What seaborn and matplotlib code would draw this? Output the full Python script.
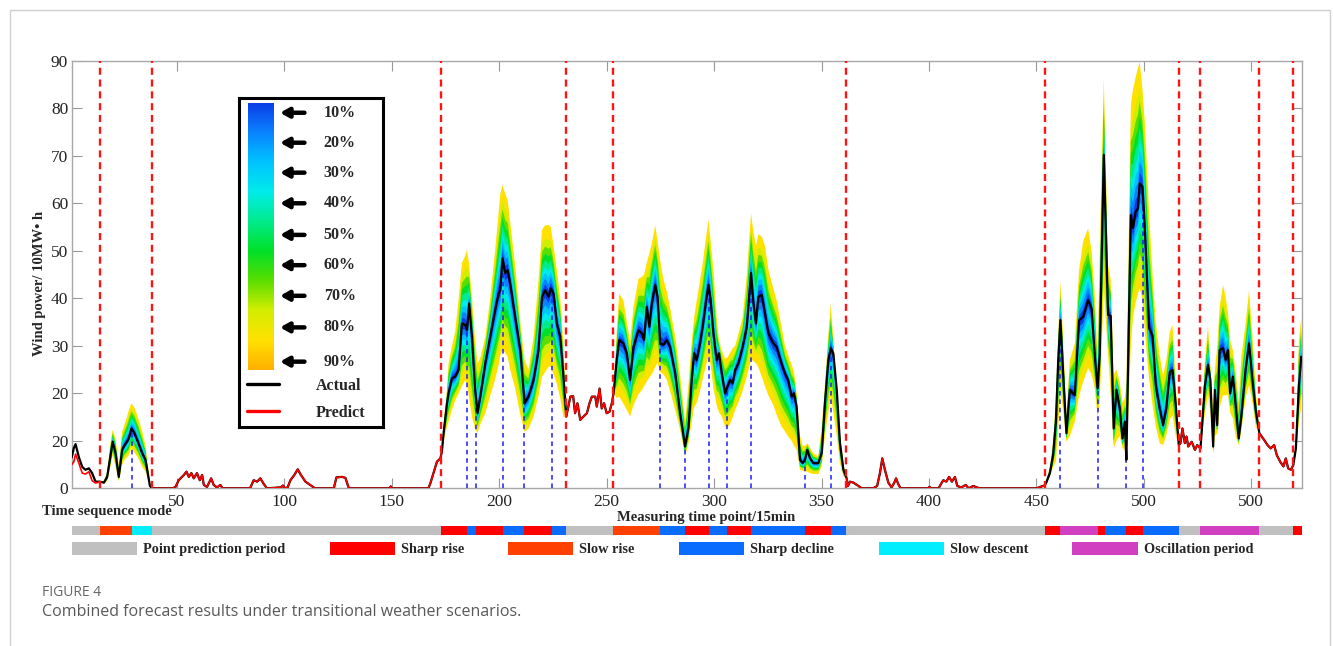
import numpy as np
import matplotlib
matplotlib.use("Agg")
import matplotlib.pyplot as plt
import seaborn as sns
from matplotlib.colors import LinearSegmentedColormap
from matplotlib.patches import Patch, Rectangle
from matplotlib.lines import Line2D

# ---- data ---------------------------------------------------------------
# measuring time point (15 min steps)
t = ([1, 2, 2.8, 4.3, 5.9, 7.4, 9, 10.5, 12.1]
     + [14, 16, 17.5, 19, 20.1, 21.4, 22.9, 24.5, 25.6, 26.7, 27.6, 28.8, 30.2, 31.8,
        33.8, 35.3, 36.4, 37.4, 38.5]
     + [41, 48, 49.3, 50.8, 53.2, 54.4, 55.5, 56.7, 57.8, 59.3, 60.6, 61.7, 62.5, 64,
        65.9, 67.1, 68.6, 70.2, 71.2, 84, 85.7, 87.3, 88.8, 90.4, 91.9, 98.4, 99.3,
        100.4, 101.5, 102.8, 104.6, 106.2, 107.7, 109.8, 112, 113.6, 114.5, 123, 124.2,
        126.8, 128.4, 130, 149, 149.5, 150, 167, 167.9, 169.4, 171, 172.6]
     + [173.3, 174.1, 175.7, 176.4, 178, 179.5, 181.1, 182.6, 184.2, 185, 186, 187.3,
        188.8, 189.9, 191.2, 193.5, 195.8, 198.1, 199.7, 200.5, 201.5, 202.8, 203.9,
        205.1, 207.4, 209.8, 211.8, 213.6, 216, 218.3, 219.9, 221.4, 223, 224, 225.3,
        226.8, 228.4, 229.9, 231.2]
     + [233.1, 234.4, 235.3, 236.4, 237.7, 239.2, 240.8, 242, 243.1, 244.7, 245.4,
        246.7, 247.7, 248.8, 250, 251.3, 252.4]
     + [253.2, 254.7, 255.8, 257.8, 259.4, 260.9, 262.5, 264.8, 266.4, 267.4, 268.7,
        269.9, 271, 272.6, 273.7, 274.9, 276.4, 278, 279.5, 281.9, 284.2, 286.5, 288.1,
        289.6, 290.7, 291.9, 293.2, 294.7, 296.3, 297.4, 298.4, 299.7, 301.2, 302.3,
        303.6, 305.1, 306.2, 307.4, 308.7, 309.8, 311.3, 313.3, 315.2, 317.2, 318.3,
        319.5, 320.6, 322.2, 323.7, 325.3, 327.6, 329.1, 331.4, 333, 334.5, 336.1,
        337.2, 338.4, 340, 341.2, 342.3, 343.4, 344.7, 346.2, 348.5, 350.1, 351.6,
        353.2, 354.3, 355.5, 357.1, 358.6, 360.2, 361.7]
     + [362.3, 363.3, 364.8, 367.2, 368.7, 374.1, 375.9, 377.2, 378.3, 379.5, 381.1,
        382.6, 383.9, 384.7, 385.7, 386.8, 399.7, 400.2, 401.2, 404.5, 405.6, 406.7,
        408.1, 409.4, 410.7, 412.1, 413.2, 415, 417.2, 418.4, 420.7, 422.2, 423.8,
        450.2, 451.8, 453.2]
     + [453.9, 454.7, 456.3, 457.8, 459.1, 460.1, 461.2, 462.5, 464, 465.6, 467.9,
        469.9, 471.8, 474.1, 475.7, 477.2, 478.5, 479.5, 481.4, 483.4, 484.6, 486,
        487.3, 488.8, 490.1, 491.2, 491.9, 494, 495, 496.2, 497.3, 498.1, 499.4, 500.5,
        502.5, 504.1, 505.6, 507.4, 509, 510.5, 512.1, 513.4, 514.9, 516.3]
     + [517.1, 518, 519.1, 519.9, 520.7, 522.3, 523.8, 524.9]
     + [526.4, 528.4, 529.9, 531, 532.3, 533.1, 534.2, 535.3, 536.9, 538.1, 539.2,
        540.2, 541.5, 542.7, 544.2, 545.4, 547.4, 549, 550.6, 552.1, 553.8]
     + [556, 557.6, 559.1, 560.7, 561.9, 563.5, 565, 566.1, 567.2, 568.5]
     + [569.6, 570.8, 572.2, 573.3])

# actual wind power / 10MW h
actual = ([6.5, 8.5, 9.3, 6.6, 4.5, 3.9, 4.2, 3.2, 1.4]
          + [1.4, 1.2, 2.4, 6.7, 9.8, 7.4, 2.4, 8.1, 9.1, 9.8, 10.5, 12.6, 11.6, 9.8,
             7.4, 6.0, 3.2, 0.5, 0.0]
          + [0, 0, 0.3, 1.7, 2.8, 3.5, 2.4, 3.2, 2.1, 3.2, 1.7, 2.8, 0.7, 0.3, 2.1,
             0.7, 0.2, 0.7, 0, 0, 1.7, 1.4, 2.1, 0.9, 0, 0.2, 0.6, 0, 0.2, 1.7, 2.8,
             4.0, 2.8, 1.4, 0.7, 0.2, 0, 0, 2.3, 2.4, 2.2, 0, 0, 0.4, 0, 0, 1.0, 3.2,
             5.6, 6.3]
          + [7.7, 11.6, 17.9, 20, 23.2, 23.5, 24.9, 34.7, 34.4, 33.3, 38.9, 31.9, 20.7,
             15.8, 19.3, 26.3, 31.9, 37.5, 41.0, 41.7, 48.4, 45.3, 45.9, 43.1, 36.1,
             29.1, 17.9, 19.3, 22.8, 29.1, 40.3, 41.7, 40.3, 42.1, 41, 34.7, 31.9,
             23.5, 15.1]
          + [19.3, 19.4, 15.8, 17.9, 14.4, 15.1, 15.8, 17.9, 19.3, 19.3, 17.2, 21.0,
             16.8, 17.9, 15.8, 16.1, 17.9]
          + [20.0, 27.0, 31.2, 30.5, 28.4, 22.8, 29.8, 33.3, 32.6, 31.2, 38.2, 34.0,
             38.9, 42.8, 40.3, 30.5, 30.2, 31.2, 29.8, 24.2, 15.8, 8.8, 12.8, 22.8,
             28.4, 27.0, 29.8, 34.0, 39.6, 42.8, 39.6, 32.6, 27.0, 28.4, 24.2, 20.0,
             21.4, 22.8, 22.1, 24.9, 26.3, 29.8, 33.9, 45.3, 39.0, 34.7, 40.3, 40.7,
             36.8, 32.6, 30.5, 29.8, 26.3, 24.2, 22.8, 19.3, 20.0, 17.2, 6.0, 5.3,
             6.0, 8.1, 6.3, 5.3, 5.3, 7.4, 17.9, 27.0, 29.5, 28.4, 20.7, 9.5, 3.9, 2.1]
          + [0.5, 1.4, 1.2, 0.5, 0, 0, 0.5, 3.2, 6.3, 3.9, 1.2, 0.2, 1.2, 2.1, 0.9, 0,
             0, 0.3, 0, 0, 0.9, 1.7, 1.4, 2.4, 1.4, 2.4, 0.5, 0.2, 0.7, 0, 0.5, 0.2,
             0, 0, 0.3, 0.5]
          + [0.6, 1.3, 3.2, 7.0, 14.0, 26.0, 35.4, 23.9, 11.6, 20.7, 19.6, 35.4, 36.1,
             39.6, 37.9, 28.1, 21.0, 28.1, 70.2, 36.5, 36.3, 12.6, 20.7, 17.0, 10.5,
             14.0, 6.0, 57.5, 54.8, 58.2, 58.9, 64.2, 63.5, 54.7, 33.7, 32.1, 21.7,
             16.8, 13.3, 16.8, 24.5, 24.9, 17.5, 9.1]
          + [9.5, 12.6, 9.5, 10.9, 8.8, 9.8, 8.1, 9.1]
          + [8.4, 21.4, 26, 22.8, 8.8, 20.7, 13.3, 29.1, 29.5, 27, 29.1, 20, 23.5, 17.9,
             10.5, 15.1, 24.9, 30.5, 22.8, 16.5, 11.6]
          + [10.2, 9.1, 8.4, 9.1, 7.0, 5.6, 4.6, 6.3, 4.2, 3.9]
          + [4.9, 8.4, 21.4, 27.7])

# 90% interval bounds, None inside point prediction periods
lo90 = ([None] * 9
        + [1.4, 1.0, 1.5, 4.5, 7.0, 4.5, 1.5, 5.0, 6.0, 6.5, 7.0, 8.5, 7.5, 6.5, 4.5,
           3.5, 2.0, 0.3, 0.0]
        + [None] * 50
        + [7.7, 10, 13, 14, 16.5, 18.5, 20, 21.5, 22.8, 22, 19, 15, 12.5, 11.6, 13.5,
           15.8, 19.5, 23, 26, 28, 29.1, 28.5, 27.7, 25, 21, 15.5, 11.9, 12.5, 15.1,
           19.5, 23.5, 24.5, 25.6, 25.6, 24, 22, 19, 15, 15.1]
        + [None] * 17
        + [20.0, 19.0, 19.3, 17.8, 16.5, 15.1, 17.5, 19.8, 20.7, 21.5, 22.5, 23.3,
           24.0, 25.5, 26.5, 24.5, 24.0, 22.8, 20.5, 16.5, 12.3, 6.7, 9.5, 14.0, 17.0,
           17.9, 20.0, 23.0, 26.0, 27.7, 26.0, 21.0, 17.5, 16.0, 15.1, 13.0, 12.8,
           13.5, 15.0, 16.5, 18.0, 20.5, 23.5, 27.0, 26.8, 26.3, 25.5, 23.5, 21.5,
           19.5, 17.5, 15.5, 13.0, 12.0, 10.9, 10.0, 9.0, 8.1, 3.9, 3.7, 3.6, 3.5,
           3.2, 3.0, 3.0, 4.6, 11.0, 16.0, 19.3, 16.0, 11.0, 5.3, 2.5, 2.1]
        + [None] * 36
        + [0.6, 1.0, 2.5, 4.5, 5.6, 12.0, 21.0, 16.0, 9.8, 11.0, 14.0, 19.5, 22.5,
           25.3, 24.0, 21.0, 15.0, 18.0, 42.0, 28.0, 20.0, 8.4, 10.0, 11.0, 8.5, 8.0,
           5.0, 30.0, 36.0, 39.0, 41.0, 42.1, 40.0, 33.0, 23.0, 17.5, 13.0, 9.5, 9.1,
           11.2, 14.5, 15.4, 11.0, 9.1]
        + [None] * 8
        + [8.4, 15.4, 19.6, 16, 7.4, 11, 11.5, 17, 19.6, 19.6, 19.6, 16, 14.7, 11, 9.1,
           12, 19, 21.7, 18, 13, 11.6]
        + [None] * 10
        + [4.9, 7, 14, 17])

hi90 = ([None] * 9
        + [1.4, 1.5, 3.5, 9.5, 12.4, 10.5, 5.0, 12.0, 13.5, 15.0, 16.5, 17.9, 17.0,
           15.0, 12.0, 9.0, 5.0, 1.0, 0.0]
        + [None] * 50
        + [7.7, 13.7, 21, 26.3, 30, 33, 40, 47.4, 49, 50.2, 47, 40, 31, 26.3, 27.5,
           31.9, 40, 50.2, 58, 62, 63.8, 62, 60.7, 56, 47, 35, 27, 25, 31.9, 44, 54.4,
           55.4, 55.4, 55, 51, 46, 40, 30, 15.1]
        + [None] * 17
        + [20.0, 33.0, 41.0, 39.6, 35.0, 31.0, 38.2, 44.1, 44.5, 45.0, 47.5, 49.5,
           51.5, 55.4, 52.0, 48.0, 44.0, 41.4, 38.0, 32.0, 23.9, 14.1, 22.0, 31.0,
           36.0, 39.5, 43.0, 47.4, 53.0, 56.5, 52.0, 46.0, 36.0, 31.0, 29.0, 27.3,
           27.5, 28.5, 29.5, 30.0, 32.5, 36.0, 44.9, 57.9, 54.0, 51.0, 53.5, 53.0,
           51.0, 46.0, 42.0, 39.6, 34.0, 30.0, 28.0, 26.0, 24.5, 20.0, 11.0, 9.0, 8.9,
           9.5, 8.5, 7.4, 6.7, 13.0, 22.0, 32.6, 39.0, 31.0, 20.0, 11.6, 5.0, 2.1]
        + [None] * 36
        + [0.6, 1.8, 4.5, 10.0, 19.0, 32.0, 43.5, 31.0, 15.5, 27.0, 30.5, 46.0, 52.0,
           54.7, 50.0, 40.7, 27.0, 50.0, 86.3, 47.0, 44.0, 24.0, 25.0, 22.5, 18.0,
           19.0, 22.0, 80.7, 84.0, 86.5, 88.5, 89.8, 84.0, 77.1, 58.0, 45.0, 35.0,
           28.0, 23.8, 27.0, 32.9, 34.4, 22.0, 9.1]
        + [None] * 8
        + [8.4, 26.3, 34.4, 25.5, 15.4, 25, 30, 38.2, 42.8, 40.3, 37, 31.2, 29, 25, 18,
           27.7, 34.7, 41.7, 31.9, 20.7, 11.6]
        + [None] * 10
        + [4.9, 10, 31, 36])

# the point forecast departs from the actual curve only at the very start
predict_start = [5.0, 5.6, 7.2, 5.3, 3.2, 3.0, 3.5, 1.6, 1.1]

assert len(t) == len(actual) == len(lo90) == len(hi90)

red_split = [14, 38.5, 173, 231, 252.8, 361.3, 454, 516.2, 526.4, 553.8, 569.6]
blue_split = [29, 184.9, 189.3, 201.6, 211.7, 224.4, 274.7, 286.6, 297.8, 306.2, 317.2,
              342.4, 354.2, 461, 478.6, 491.5, 499.6]

# time sequence mode bar
mode_edges = [1, 14, 29, 38.5, 173, 185, 189.3, 201.6, 211.7, 224.4, 231, 252.8, 274.7,
              286.6, 297.8, 306.2, 317.2, 342.4, 354.2, 361.3, 454, 461, 478.6, 482,
              491.5, 499.6, 516.2, 526.4, 553.8, 569.6, 573.5]
mode_seq = ['P', 'SR', 'SD', 'P', 'R', 'D', 'R', 'D', 'R', 'D', 'P', 'SR', 'D', 'R', 'D',
            'R', 'D', 'R', 'D', 'P', 'R', 'O', 'R', 'D', 'R', 'D', 'P', 'O', 'P', 'R']
mode_names = {'P': 'Point prediction period', 'R': 'Sharp rise', 'SR': 'Slow rise',
              'D': 'Sharp decline', 'SD': 'Slow descent', 'O': 'Oscillation period'}
mode_colors = {'P': '#c0c0c0', 'R': '#ff0000', 'SR': '#ff4000', 'D': '#0a6cff',
               'SD': '#00eeff', 'O': '#d040c0'}

levels = ['10%', '20%', '30%', '40%', '50%', '60%', '70%', '80%', '90%']
level_width = [0.09, 0.18, 0.27, 0.36, 0.46, 0.56, 0.67, 0.79, 1.0]
level_colors = ['#0a3ce6', '#0a82ff', '#00c3ff', '#00ebeb', '#00eb8c', '#00e028',
                '#5ade00', '#d2ee00', '#ffe100']

xtick_pos = [50, 100, 150, 200, 250, 300, 350, 400, 450, 500, 550]
xtick_lab = ['50', '100', '150', '200', '250', '300', '350', '400', '450', '500', '500']
ytick_pos = [0, 10, 20, 30, 40, 50, 60, 70, 80, 90]
ytick_lab = ['0', '20', '20', '30', '40', '50', '60', '70', '80', '90']

# ---- drawing -------------------------------------------------------------
sns.set_theme(style='ticks')
serif = ['Liberation Serif', 'DejaVu Serif']
plt.rcParams['font.family'] = serif
bold = dict(family=serif, weight='bold')

fig = plt.figure(figsize=(13.33, 6.46), dpi=100)
ax = fig.add_axes([0.0538, 0.2441, 0.9227, 0.6619])

a = np.array(actual, dtype=float)
lo = np.array(lo90, dtype=float)
hi = np.array(hi90, dtype=float)

# nested prediction intervals, widest first
for w, c in zip(level_width[::-1], level_colors[::-1]):
    ax.fill_between(t, a - (a - lo) * w, a + (hi - a) * w, color=c, lw=0, zorder=3)

pred = np.where(np.isnan(lo) | (lo == hi), a, np.nan)
pred[:len(predict_start)] = predict_start

sns.lineplot(x=t, y=actual, ax=ax, color='black', linewidth=1.6, sort=False,
             estimator=None, zorder=5)
ax.plot(t, pred, color='red', lw=1.2, zorder=6)

ax.vlines(blue_split, 0, np.interp(blue_split, t, actual), colors='#1e1eff', lw=1.1,
          linestyles=(0, (3, 2.5)), zorder=4.5)
for xv in red_split:
    ax.axvline(xv, color='#ff1414', lw=1.7, ls=(0, (3, 2)), zorder=7)

ax.set_xlim(1, 573.5)
ax.set_ylim(0, 90)
ax.set_xticks(xtick_pos)
ax.set_xticklabels(xtick_lab, fontfamily=serif)
ax.set_yticks(ytick_pos)
ax.set_yticklabels(ytick_lab, fontfamily=serif)
ax.tick_params(direction='in', top=True, right=True, length=7, width=0.8,
               color='#999999', labelcolor='#222222', labelsize=12.5)
ax.tick_params(axis='x', pad=4)
ax.tick_params(axis='y', pad=2.5)
for s in ax.spines.values():
    s.set_color('#a8a8a8')
    s.set_linewidth(1.0)

ax.set_ylabel('Wind power/ 10MW\u2022 h', fontsize=10.5, **bold)
ax.yaxis.set_label_coords(-0.021, 0.48)
ax.set_xlabel('Measuring time point/15min', fontsize=10.5, **bold)
ax.xaxis.set_label_coords(0.516, -0.053)

# inner legend: colour scale + actual / predict
ins = ax.inset_axes([0.136, 0.143, 0.117, 0.770])
ins.set_zorder(10)
ins.set_xlim(0, 1)
ins.set_ylim(0, 1)
ins.set_xticks([])
ins.set_yticks([])
ins.set_facecolor('white')
for s in ins.spines.values():
    s.set_color('black')
    s.set_linewidth(2.2)

cmap = LinearSegmentedColormap.from_list('pi', level_colors + ['#ffb000'])
cb = ins.inset_axes([0.0625, 0.173, 0.174, 0.812])
cb.imshow(np.linspace(0, 1, 256).reshape(-1, 1), aspect='auto', cmap=cmap)
cb.axis('off')

label_y = [0.955, 0.864, 0.773, 0.680, 0.584, 0.492, 0.399, 0.303, 0.199]
for lab, yy in zip(levels, label_y):
    ins.annotate('', xy=(0.285, yy), xytext=(0.455, yy),
                 arrowprops=dict(arrowstyle='-|>,head_length=0.5,head_width=0.28',
                                 lw=3.2, color='black', shrinkA=0, shrinkB=0,
                                 mutation_scale=10))
    ins.text(0.70, yy, lab, ha='center', va='center', fontsize=11.5, **bold)

ins.legend(handles=[Line2D([], [], color='black', lw=2.4, label='Actual'),
                    Line2D([], [], color='red', lw=2.4, label='Predict')],
           loc='upper left', bbox_to_anchor=(0.056, 0.150), frameon=False,
           handlelength=2.0, handletextpad=2.3, labelspacing=0.7, borderpad=0,
           borderaxespad=0, prop=dict(family='Liberation Serif', weight='bold', size=11.5))

# time sequence mode bar
bar = fig.add_axes([0.0538, 0.1718, 0.9227, 0.0139])
edges = np.array(mode_edges)
bar.barh(0, np.diff(edges), left=edges[:-1], height=1,
         color=[mode_colors[m] for m in mode_seq], lw=0)
bar.set_xlim(1, 573.5)
bar.set_ylim(-0.5, 0.5)
bar.axis('off')

fig.text(42 / 1333, 1 - 511 / 646, 'Time sequence mode', va='center', ha='left',
         fontsize=10.5, **bold)

handles = [Patch(facecolor=mode_colors[k], edgecolor='none', label=mode_names[k])
           for k in ['P', 'R', 'SR', 'D', 'SD', 'O']]
fig.legend(handles=handles, loc='upper left', bbox_to_anchor=(72 / 1333, 1 - 542 / 646),
           ncol=6, frameon=False, handlelength=4.55, handleheight=1.0,
           handletextpad=0.42, columnspacing=3.1, borderpad=0, borderaxespad=0,
           prop=dict(family='Liberation Serif', weight='bold', size=10.3))

# caption and page frame
fig.text(42 / 1333, 1 - 593 / 646, 'FIGURE 4', va='center', ha='left', fontsize=10,
         color='#666666', family='Open Sans')
fig.text(42 / 1333, 1 - 612 / 646,
         'Combined forecast results under transitional weather scenarios.',
         va='center', ha='left', fontsize=11.5, color='#595959', family='Open Sans')
fig.patches.append(Rectangle((10 / 1333, -0.02), (1330 - 10) / 1333, 1.02 - 10 / 646,
                             transform=fig.transFigure, fill=False, ec='#d0d0d0', lw=1))

fig.savefig('out.png', dpi=100)
